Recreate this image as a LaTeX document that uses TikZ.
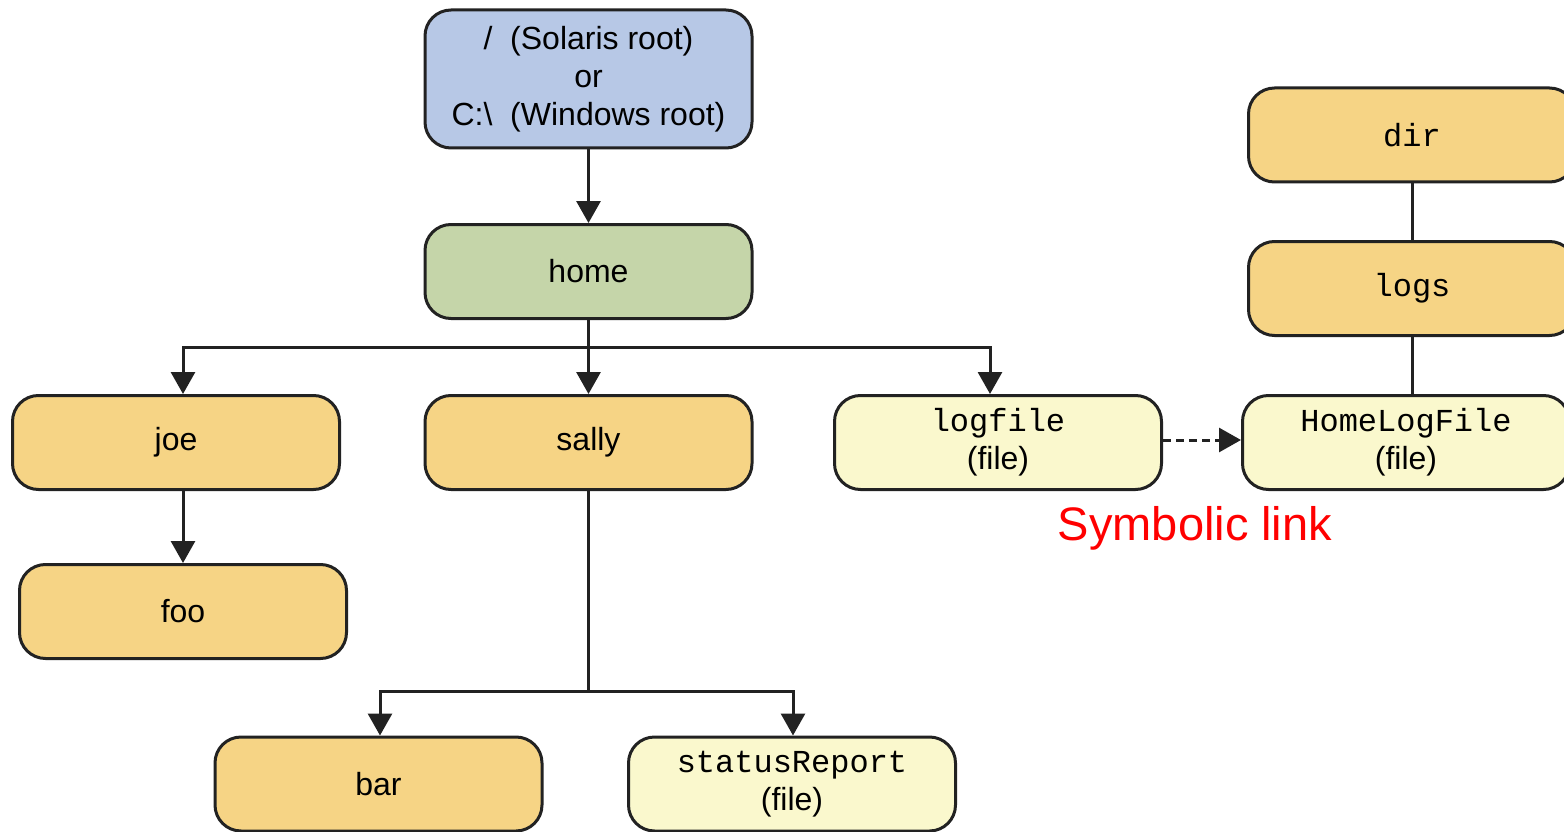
\documentclass[tikz,border=0pt]{standalone}
\usepackage{fontspec}
\setmainfont{Liberation Sans}
\setmonofont{Liberation Mono}
\usetikzlibrary{arrows.meta}
\definecolor{rootblue}{HTML}{B7C8E6}
\definecolor{homegreen}{HTML}{C5D5A9}
\definecolor{dirorange}{HTML}{F6D485}
\definecolor{fileyellow}{HTML}{FAF8CD}
\definecolor{edgegray}{HTML}{222222}
\definecolor{linkred}{HTML}{FF0000}
\tikzset{
  box/.style={draw=edgegray, line width=3pt, rounded corners=26pt,
    minimum width=327pt, minimum height=94pt, inner sep=0pt, align=center,
    font=\fontsize{32}{38}\selectfont},
  dirbox/.style={box, fill=dirorange},
  filebox/.style={box, fill=fileyellow},
  conn/.style={draw=edgegray, line width=3pt},
  arr/.style={conn, -{Triangle[length=22pt,width=24pt]}},
  mono/.style={font=\fontsize{32}{38}\selectfont\ttfamily}
}
\begin{document}
\begin{tikzpicture}[x=1pt,y=-1pt]
\useasboundingbox (0,0) rectangle (1564,832);
\node[box, fill=rootblue, minimum height=138pt] (root) at (588.5,79)
  {/\ \ (Solaris root)\\or\\C:\textbackslash\ \ (Windows root)};
\node[box, fill=homegreen] (home) at (588.5,271.5) {home};
\node[dirbox] (joe) at (176,442.5) {joe};
\node[dirbox] (sally) at (588.5,442.5) {sally};
\node[filebox] (logfile) at (998,442.5) {{\ttfamily logfile}\\(file)};
\node[filebox] (hlf) at (1406,442.5) {{\ttfamily HomeLogFile}\\(file)};
\node[dirbox] (dir) at (1412,135) {\ttfamily dir};
\node[dirbox] (logs) at (1412,288.5) {\ttfamily logs};
\node[dirbox] (foo) at (183,611.5) {foo};
\node[dirbox] (bar) at (378.5,784) {bar};
\node[filebox] (status) at (792,784) {{\ttfamily statusReport}\\(file)};
\node[text=linkred, font=\fontsize{47}{56}\selectfont] (symlink) at (1195,528) {Symbolic link};

\coordinate (hb) at (588.5,347);
\coordinate (sb) at (588.5,691);

\draw[arr] (root) -- (home);
\draw[conn] (home.south) -- (hb);
\draw[arr] (hb) -| ([xshift=7pt]joe.north);
\draw[arr] (hb) -- (sally.north);
\draw[arr] (hb) -| ([xshift=-8pt]logfile.north);
\draw[arr] ([xshift=7pt]joe.south) -- (foo.north);
\draw[conn] (sally.south) -- (sb);
\draw[arr] (sb) -| ([xshift=1.5pt]bar.north);
\draw[arr] (sb) -| ([xshift=1pt]status.north);
\draw[arr, dashed, dash pattern=on 8pt off 5pt] ([yshift=2.5pt]logfile.east) -- ([yshift=2.5pt]hlf.west);
\draw[conn] (dir) -- (logs);
\draw[conn] (logs) -- ([xshift=6pt]hlf.north);
\end{tikzpicture}
\end{document}
